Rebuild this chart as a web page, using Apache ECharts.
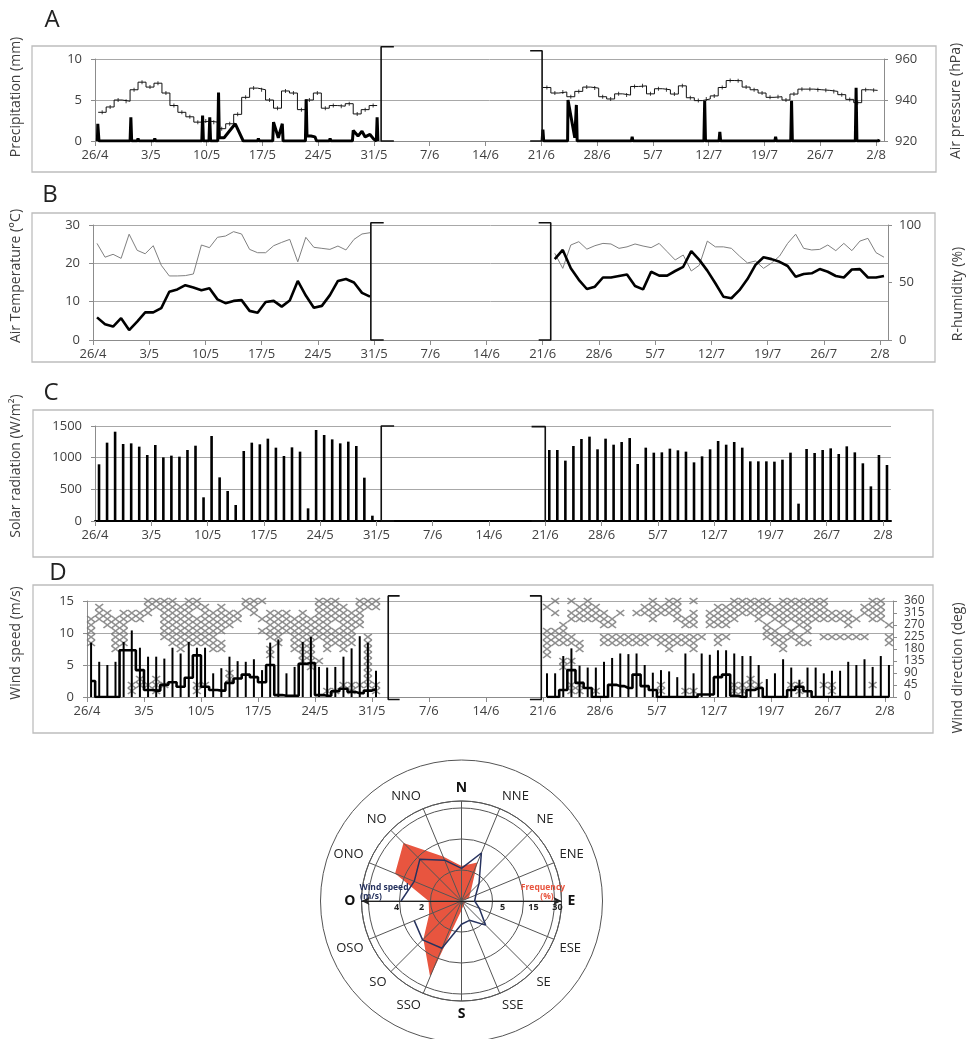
<!DOCTYPE html>
<html><head><meta charset="utf-8">
<script src="https://cdn.jsdelivr.net/npm/echarts@6/dist/echarts.min.js"></script>
<style>html,body{margin:0;padding:0;background:#fff}#c{width:973px;height:1039px}</style>
</head><body><div id="c"></div>
<script>
const FONT = 'Open Sans';
// ---------- x axis (days since 26/4) ----------
const weekLabels = ['26/4','3/5','10/5','17/5','24/5','31/5','7/6','14/6','21/6','28/6','5/7','12/7','19/7','26/7','2/8'];
const tickDays = weekLabels.map((_, i) => i * 7);

// ---------- A: precipitation (mm) polyline points [day, mm] ----------
const precipSeg1 = [[0.3,0],[0.35,2.1],[0.5,0],[4.4,0],[4.5,2.9],[4.6,0],[5.3,0],[5.4,0.3],[5.5,0],[7.4,0],[7.5,0.3],[7.6,0],[13.4,0],[13.5,3.1],[13.6,0],[14.3,0],[14.4,2.9],[14.5,0],[15.4,0],[15.5,5.9],[15.6,0.4],[16.2,0.4],[17.6,2.1],[18.6,0],[20.4,0],[20.5,0.3],[20.6,0],[22.3,0],[22.4,2.3],[23.0,0.4],[23.5,2.1],[23.6,0],[26.4,0],[26.5,5.1],[26.6,0.6],[27.1,0.6],[27.6,0.5],[27.8,0],[29.4,0],[29.5,0.3],[29.6,0],[32.3,0],[32.4,1.3],[33.0,0.6],[33.5,1.2],[33.9,0.5],[34.5,0.8],[35.0,0.2],[35.3,0],[35.4,2.9],[35.5,0]];
const precipSeg2 = [[56.1,0],[56.2,1.4],[56.3,0],[59.3,0],[59.35,5.0],[60.2,0.4],[60.4,4.4],[60.5,0],[67.3,0],[67.4,0.5],[67.5,0],[68.4,0],[68.5,0.2],[68.6,0],[76.4,0],[76.5,4.9],[76.6,0],[78.3,0],[78.4,1.1],[78.5,0],[85.3,0],[85.4,0.5],[85.5,0],[87.3,0],[87.4,4.9],[87.5,0],[95.4,0],[95.5,6.5],[95.6,0],[98.3,0],[98.4,0.2]];
// ---------- A: daily air pressure (hPa) ----------
const pressureSeg1Start = 0.4;
const pressureSeg1 = [934,936.6,940,939.4,945,948.7,946.3,948.2,943.4,937.3,934,931.8,929.2,929.7,929.2,926,928.4,933,941.3,945.8,945,940,936,944.4,943.4,935.3,940,943.4,936,937.3,937,938.2,933.2,935.3,937.3];
const pressureSeg2Start = 56.2;
const pressureSeg2 = [946.1,943.4,943.9,941.6,944.2,946.3,945.8,941.6,940.5,943,942.4,946.6,946.9,943,945.5,945,942.9,946.9,941.1,939.7,940.5,942,946.1,949.5,949.4,946.3,945,943.4,941.3,941.6,940,942.9,945.3,945.3,945,944.7,944.2,942.6,940.3,938.7,945,944.7];

// ---------- B: air temperature (°C) and relative humidity (%) ----------
const seg1Start = 0, seg2StartB = 57, seg2Start = 56;
const tempSeg1 = [5.9,4.1,3.5,5.7,2.6,4.8,7.2,7.2,8.3,12.6,13.2,14.3,13.7,13.0,13.5,10.6,9.6,10.2,10.4,7.6,7.1,9.9,10.2,8.7,10.3,15.4,11.6,8.4,8.9,11.7,15.4,15.9,15.0,12.3,11.3];
const tempSeg2 = [21.1,23.5,18.7,15.7,13.3,13.9,16.3,16.3,16.7,17.1,14.1,13.2,17.8,16.8,16.8,18.0,19.1,23.2,20.9,18.1,14.8,11.3,10.9,13.0,15.9,19.6,21.6,21.1,20.4,19.3,16.5,17.2,17.4,18.5,17.8,16.7,16.3,18.4,18.5,16.3,16.3,16.7];
const humSeg1 = [84,72,74.5,71,92,78,75,82,65,55.7,55.7,56,57.4,82.6,80.3,89.3,90.4,94.2,92.2,78.8,75.9,75.9,82,84.9,87.5,68,89.3,80.6,79.7,78.8,81.7,78.3,87.5,92.2,93.3];
const humSeg2 = [75.4,62.3,82.6,85.5,79,82,84,83.5,79.7,81,83.5,81.7,80.3,84,76.8,69.6,73.9,60,65,86,81,81,79.7,73,67,68.7,62.3,67,73,84,92,79.7,78.3,78.8,82.6,77.7,84,77.7,86,88.4,76,72];

// ---------- C: solar radiation (W/m2) ----------
const solarSeg1 = [895,1237,1410,1216,1226,1174,1042,1200,1005,1032,1016,1121,1189,374,1342,689,474,253,1105,1237,1211,1300,1158,1026,1163,1095,200,1437,1358,1289,1226,1253,1184,684,84];
const solarSeg2 = [1121,1121,953,1184,1295,1332,1132,1300,1205,1247,1310,900,1158,1079,1084,1142,1116,1095,926,1021,1132,1263,1205,1247,1158,942,942,942,937,968,1079,274,1137,1074,1121,1147,1058,1179,1084,911,547,1042,884];

// ---------- D: wind speed (m/s) and direction (deg) ----------
const windMaxSeg1 = [8.5,5.5,5.0,5.5,8.6,10.4,7.7,6.3,6.3,6.0,7.7,6.8,8.6,7.7,7.7,3.7,4.5,6.3,5.6,5.5,5.9,4.2,8.5,9.0,3.7,4.7,8.6,9.4,4.7,4.6,4.7,6.3,7.6,9.5,8.5,4.1];
const windMaxSeg2 = [3.7,3.7,6.4,7.6,4.9,4.6,4.6,5.5,6.1,6.8,6.7,6.8,5.0,3.8,4.2,4.0,3.1,6.8,3.7,6.8,6.6,7.3,7.3,6.8,6.4,6.4,5.0,2.8,3.7,5.9,4.6,2.7,4.6,4.6,3.7,4.1,4.1,5.5,5.0,5.9,4.7,6.4,5.0];
const windMeanSeg1 = [2.5,0,0,0,7.3,7.3,4.2,1.1,1.0,1.9,2.3,1.6,3.0,6.5,1.6,1.1,1.0,2.2,2.9,3.5,3.1,2.3,5.0,0.3,0.2,0.2,5.2,5.3,0.3,0.2,0.9,1.3,0.8,0.6,1.0,1.2];
const windMeanSeg2 = [0,0,1.1,4.2,2.2,1.4,0,0,1.9,1.7,1.4,3.5,1.7,1.1,0,0,0,0,0,0.4,0.4,3.1,3.5,0.2,0,1.1,1.4,0,0,0,1.1,1.6,0.9,0,0,0,0,0,0,0,0,0,0];
const dirSeg1 = [
[292.5,270,247.5,225,202.5],[337.5,315,292.5],[315,292.5,270],[292.5,270,247.5,225,202.5,180],
[315,292.5,270,247.5,225,202.5],[315,292.5,45,22.5],[315,292.5,67.5,45],[360,337.5,315,45],
[360,337.5,67.5,45,22.5],[360,337.5,315,292.5,270,247.5,225,45],[360,337.5,315,292.5,270,247.5,225,202.5],
[337.5,315,292.5,270,247.5,225,202.5,180],[360,337.5,315,292.5,270,247.5,225,202.5],
[360,337.5,292.5,270,247.5,225,202.5,45,22.5],[337.5,315,292.5,270,247.5,225,202.5,45],
[315,292.5,270,247.5,225,202.5,180],[337.5,315,292.5,270,247.5,202.5,180],[315,292.5,270,90,67.5],
[315,292.5],[360,337.5],[360,337.5,315],[360,292.5,247.5],[315,292.5,270,247.5,225,180,157.5],
[315,292.5,270,247.5,225,202.5],[315,292.5,270,247.5],[292.5,270,247.5,225,202.5,180],
[315,292.5,270,247.5,225,202.5,180,157.5,135],[292.5,270,247.5,225,202.5,180,157.5,135,112.5],
[360,337.5,315,292.5,270,247.5,225,135],[360,337.5,315,292.5,270,247.5,225,202.5,180,22.5],
[360,337.5,315,292.5,247.5,225,202.5,22.5],[337.5,315,292.5,270,247.5,225,202.5,180,45],
[315,292.5,270,247.5,225,202.5,45,22.5],[360,337.5,315,292.5,270,45],
[360,337.5,225,202.5,180,157.5,135,112.5,90,67.5,45],[360,337.5,45,22.5]];
const dirSeg2 = [
[337.5,247.5,225,202.5,180,157.5],[360,315,247.5,225,202.5],[270,247.5,225,202.5,135,112.5],
[360,315,292.5,225,202.5,135,45,22.5],[337.5,315,292.5,202.5,180,45,22.5],[360,337.5,315,292.5],
[337.5,315,292.5,22.5],[315,292.5,270,225,202.5],[292.5,270,225,202.5],[315,225,202.5],[225,202.5],
[315,225,202.5],[337.5,315,225,202.5],[360,337.5,315,292.5,225],[337.5,315,225,202.5,45,22.5],
[360,337.5,315,225,202.5,180],[360,337.5,315,292.5,225,202.5],[292.5,270,225,202.5,22.5],
[360,315,292.5,270,225,202.5,180,22.5],[225],[315,292.5,270],[337.5,315,292.5,270,225,202.5],
[337.5,315,292.5,270,225],[360,337.5,315,292.5,45,22.5],[360,337.5,315,45,22.5],[360,337.5,315,67.5,45],
[360,337.5,315,292.5,45],[360,337.5,315,270,247.5,225],[337.5,315,292.5,247.5,225,202.5],
[360,337.5,315,292.5,270,225,202.5,180],[360,337.5,315,292.5,247.5,225,45],
[360,337.5,315,292.5,270,225,202.5,45,22.5],[360,337.5,315,292.5,270,247.5,202.5],[360,337.5,315,292.5],
[360,337.5,315,292.5,225,45],[315,292.5,225,45,22.5],[315,292.5,225],[315,292.5,270,225],[292.5,225],
[337.5,315,225],[360,337.5,315,292.5,45],[360,337.5,315,292.5],[270,225,202.5]];

// ---------- gap brackets (data coordinates of each panel) ----------
const bracketA = [[[37.5,11.5],[35.9,11.5],[35.9,0],[37.5,0]], [[54.6,11.0],[56.1,11.0],[56.1,0],[54.6,0]]];
const bracketB = [[[36.2,30.6],[34.6,30.6],[34.6,0],[36.2,0]], [[55.5,30.6],[57.0,30.6],[57.0,0],[55.5,0]]];
const bracketC = [[[37.2,1500],[35.6,1500],[35.6,0],[37.2,0]], [[54.3,1490],[56.0,1490],[56.0,0],[54.3,0]]];
const bracketD = [[[38.4,15.8],[37.0,15.8],[37.0,-0.4],[38.4,-0.4]], [[54.4,15.8],[55.8,15.8],[55.8,-0.4],[54.4,-0.4]]];

// ---------- wind rose ----------
const roseDirs = ['N','NNE','NE','ENE','E','ESE','SE','SSE','S','SSO','SO','OSO','O','ONO','NO','NNO'];
const roseFreq = [6.3,8.4,2.1,1.3,0.8,0.6,0.6,0.6,1.5,24.7,12.4,6.3,5.6,19.8,24.7,10.5];   // %
const roseSpeed = [2.1,3.35,1.6,1.0,0.85,1.25,2.2,1.35,1.5,3.3,3.55,3.3,3.9,3.3,3.8,2.85]; // m/s
const freqTicks = [5, 15, 30];
const speedTicks = [2, 4];

// ---------- helpers ----------
function steps(start, values) { const p = []; values.forEach((v, i) => { p.push([start + i, v], [start + i + 1, v]); }); return p; }
function mids(start, values) { return values.map((v, i) => [start + i + 0.5, v]); }
function daily(start, values) { return values.map((v, i) => [start + i + 0.5, v]); }
function dirPoints(start, lists) { const p = []; lists.forEach((l, i) => l.forEach(d => p.push([start + i + 0.5, d]))); return p; }
function ring(f) { // frequency -> ring position (rings at 5, 15, 30 %)
  let lo = 0, loR = 0;
  for (let k = 0; k < freqTicks.length; k++) { const hi = freqTicks[k]; if (f <= hi) return loR + (f - lo) / (hi - lo); lo = hi; loR = k + 1; }
  return loR;
}
function rotate(arr, n) { return arr.slice(n).concat(arr.slice(0, n)); }
function closed(values, shift) { const names = rotate(roseDirs, shift), vals = rotate(values, shift); const d = names.map((n, i) => [vals[i], n]); d.push([vals[0], names[0]]); return d; }

const AX = '#8c8c8c', GRID = '#a8a8a8', TXT = '#404040';
const grids = [
  {left:95, top:59, width:789, height:82},
  {left:93, top:225, width:795, height:115},
  {left:95, top:426, width:796, height:95},
  {left:87, top:601, width:806, height:96}
];
function makeX(i, lineColor, lineWidth) {
  return {type:'value', gridIndex:i, min:0, max:99,
    axisLine:{show:true, onZero:false, lineStyle:{color:lineColor || AX, width:lineWidth || 1}},
    axisTick:{show:true, length:5, customValues:tickDays, lineStyle:{color:AX}},
    axisLabel:{customValues:tickDays, formatter:v => weekLabels[Math.round(v/7)], color:TXT, fontSize:13, margin:8, fontFamily:FONT},
    splitLine:{show:false}};
}
function makeY(i, pos, min, max, interval, split, fs) {
  return {type:'value', gridIndex:i, position:pos, min:min, max:max, interval:interval,
    axisLine:{show:true, lineStyle:{color:AX}}, axisTick:{show:true, length:4, lineStyle:{color:AX}},
    axisLabel:{color:TXT, fontSize:fs || 13, margin:pos === 'left' ? 13 : 11, fontFamily:FONT, formatter:v => String(v)},
    splitLine:{show:split, lineStyle:{color:GRID, width:1}}};
}
function lineS(x, y, data, color, width, extra) {
  return Object.assign({type:'line', xAxisIndex:x, yAxisIndex:y, data:data, symbol:'none', silent:true,
    lineStyle:{color:color, width:width}, itemStyle:{color:color}, animation:false}, extra || {});
}
function brackets(x, y, arr) { return arr.map(b => lineS(x, y, b, '#111', 1.6, {clip:false, z:6})); }

const XMARK = 'path://M0,1.3L1.3,0L5,3.7L8.7,0L10,1.3L6.3,5L10,8.7L8.7,10L5,6.3L1.3,10L0,8.7L3.7,5Z';
const C = [461.5, 901];
const speedMax = 6.45, ringMax = 3.226;
const smallBold = {fontSize:9, fontWeight:'bold', color:'#222', fontFamily:FONT};

const series = [
  // A
  lineS(0, 1, steps(pressureSeg1Start, pressureSeg1), '#111', 1),
  lineS(0, 1, steps(pressureSeg2Start, pressureSeg2), '#111', 1),
  {type:'scatter', xAxisIndex:0, yAxisIndex:1, silent:true, symbol:'rect', symbolSize:[1,4], itemStyle:{color:'#111'},
    data: mids(pressureSeg1Start, pressureSeg1).concat(mids(pressureSeg2Start, pressureSeg2))},
  lineS(0, 0, precipSeg1, '#000', 3, {z:4}),
  lineS(0, 0, precipSeg2, '#000', 3, {z:4}),
  ...brackets(0, 0, bracketA),
  // B
  lineS(1, 3, daily(seg1Start, humSeg1), '#808080', 1),
  lineS(1, 3, daily(seg2StartB, humSeg2), '#808080', 1),
  lineS(1, 2, daily(seg1Start, tempSeg1), '#000', 2.6, {z:4}),
  lineS(1, 2, daily(seg2StartB, tempSeg2), '#000', 2.6, {z:4}),
  ...brackets(1, 2, bracketB),
  // C
  {type:'bar', xAxisIndex:2, yAxisIndex:4, barWidth:2.6, silent:true, itemStyle:{color:'#000'},
    data: daily(seg1Start, solarSeg1).concat(daily(seg2Start, solarSeg2))},
  ...brackets(2, 4, bracketC),
  // D
  {type:'scatter', xAxisIndex:3, yAxisIndex:6, silent:true, symbol:XMARK, symbolSize:[9,7], itemStyle:{color:'#747474'}, z:1,
    data: dirPoints(seg1Start, dirSeg1).concat(dirPoints(seg2Start, dirSeg2))},
  {type:'bar', xAxisIndex:3, yAxisIndex:5, barWidth:2, silent:true, itemStyle:{color:'#000'}, z:3,
    data: daily(seg1Start, windMaxSeg1).concat(daily(seg2Start, windMaxSeg2))},
  lineS(3, 5, daily(seg1Start, windMeanSeg1), '#000', 2.6, {step:'middle', z:4}),
  lineS(3, 5, daily(seg2Start, windMeanSeg2), '#000', 2.6, {step:'middle', z:4}),
  ...brackets(3, 5, bracketD),
  // rose
  {type:'line', coordinateSystem:'polar', polarIndex:2, silent:true, symbol:'none', z:1,
    data: closed(roseFreq.map(ring), 4), lineStyle:{width:0, color:'#e8553f'}, areaStyle:{color:'#e8553f', opacity:1}},
  {type:'line', coordinateSystem:'polar', polarIndex:1, silent:true, symbol:'none', z:8,
    data: closed(roseSpeed, 12), lineStyle:{width:1.5, color:'#27335f'}}
];

function txt(x, y, text, size, rot, extra) {
  return {type:'text', x:x, y:y, rotation:rot || 0, silent:true, z:10,
    style:Object.assign({text:text, fontSize:size, fill:TXT, fontFamily:FONT, align:'center', verticalAlign:'middle'}, extra || {})};
}
function box(x, y, w, h) { return {type:'rect', silent:true, z:0, shape:{x:x, y:y, width:w, height:h}, style:{fill:'none', stroke:'#bdbdbd', lineWidth:1.3}}; }
const R90 = Math.PI / 2;

const option = {
  animation:false, backgroundColor:'#fff', textStyle:{fontFamily:FONT},
  grid: grids,
  xAxis: [makeX(0), makeX(1), makeX(2, '#000', 2), makeX(3)],
  yAxis: [
    makeY(0, 'left', 0, 10, 5, true), makeY(0, 'right', 920, 960, 20, false),
    makeY(1, 'left', 0, 30, 10, true), makeY(1, 'right', 0, 100, 50, false),
    makeY(2, 'left', 0, 1500, 500, true),
    makeY(3, 'left', 0, 15, 5, true), makeY(3, 'right', 0, 360, 45, false, 12)
  ],
  polar: [{center:C, radius:100}, {center:C, radius:100}, {center:C, radius:100}],
  angleAxis: [
    {polarIndex:0, type:'value', min:0, max:360, interval:22.5, startAngle:90, clockwise:true, z:3,
      axisLine:{show:true, lineStyle:{color:'#555', width:1}}, axisTick:{show:false},
      splitLine:{show:true, lineStyle:{color:'#555', width:1}},
      axisLabel:{show:true, margin:6, color:'#222', fontSize:13, fontFamily:FONT,
        formatter:v => { if (v >= 360) return ''; const n = roseDirs[Math.round(v / 22.5)]; return ['N','E','S','O'].indexOf(n) >= 0 ? '{b|' + n + '}' : n; },
        rich:{b:{fontWeight:'bold', fontSize:14, color:'#111', fontFamily:FONT}}}},
    {polarIndex:1, type:'category', data:rotate(roseDirs, 12), startAngle:180, clockwise:true, boundaryGap:false, show:false},
    {polarIndex:2, type:'category', data:rotate(roseDirs, 4), startAngle:0, clockwise:true, boundaryGap:false, show:false}
  ],
  radiusAxis: [
    {polarIndex:0, type:'value', min:0, max:speedMax, interval:2, z:3, axisLine:{show:false}, axisTick:{show:false}, axisLabel:{show:false},
      splitLine:{show:true, lineStyle:{color:'#555', width:1}}},
    {polarIndex:1, type:'value', min:0, max:speedMax, interval:2, z:4,
      axisLine:{show:true, symbol:['none','arrow'], symbolSize:[6,8], lineStyle:{color:'#222', width:1}},
      axisTick:{show:false}, splitLine:{show:false},
      axisLabel:{margin:2, fontSize:9, fontWeight:'bold', color:'#222', fontFamily:FONT,
        formatter:v => (v === speedTicks[0] ? '{far|' + v + '}' : v === speedTicks[1] ? '{near|' + v + '}' : ''),
        rich:{far:Object.assign({padding:[0,18,0,0]}, smallBold), near:Object.assign({padding:[0,6,0,0]}, smallBold)}}},
    {polarIndex:2, type:'value', min:0, max:ringMax, interval:1, z:4,
      axisLine:{show:true, symbol:['none','arrow'], symbolSize:[6,8], lineStyle:{color:'#222', width:1}},
      axisTick:{show:false}, splitLine:{show:false},
      axisLabel:{margin:-11, fontSize:9, fontWeight:'bold', color:'#222', fontFamily:FONT,
        formatter:v => (v === 1 || v === 2 ? '{far|' + freqTicks[v-1] + '}' : v === 3 ? '{near|' + freqTicks[2] + '}' : ''),
        rich:{far:Object.assign({padding:[0,0,0,20]}, smallBold), near:Object.assign({padding:[0,0,0,6]}, smallBold)}}}
  ],
  series: series,
  graphic: [
    box(32, 46, 904, 126), box(32, 213, 903, 149), box(33, 410, 900, 147), box(33, 585, 900, 148),
    txt(52, 20, 'A', 24, 0, {fill:'#222'}), txt(50, 195, 'B', 24, 0, {fill:'#222'}),
    txt(51, 393, 'C', 24, 0, {fill:'#222'}), txt(58, 573, 'D', 24, 0, {fill:'#222'}),
    txt(16, 97, 'Precipitation (mm)', 14, R90), txt(956, 101, 'Air pressure (hPa)', 14, R90),
    txt(16, 276, 'Air Temperature (°C)', 14, R90), txt(958, 294, 'R-humidity (%)', 14, R90),
    txt(16, 466, 'Solar radiation (W/m²)', 14, R90),
    txt(16, 643, 'Wind speed (m/s)', 14, R90), txt(958, 668, 'Wind direction (deg)', 14, R90),
    {type:'circle', silent:true, z:0, shape:{cx:C[0], cy:C[1], r:141}, style:{fill:'none', stroke:'#555', lineWidth:1}},
    txt(384, 888, 'Wind speed', 8.5, 0, {fill:'#27335f', fontWeight:'bold'}),
    txt(371, 897, '(m/s)', 8.5, 0, {fill:'#27335f', fontWeight:'bold'}),
    txt(543, 888, 'Frequency', 8.5, 0, {fill:'#e8553f', fontWeight:'bold'}),
    txt(547, 897, '(%)', 8.5, 0, {fill:'#e8553f', fontWeight:'bold'})
  ]
};
const chart = echarts.init(document.getElementById('c'), null, {renderer:'canvas', width:973, height:1039});
chart.setOption(option);
</script></body></html>
